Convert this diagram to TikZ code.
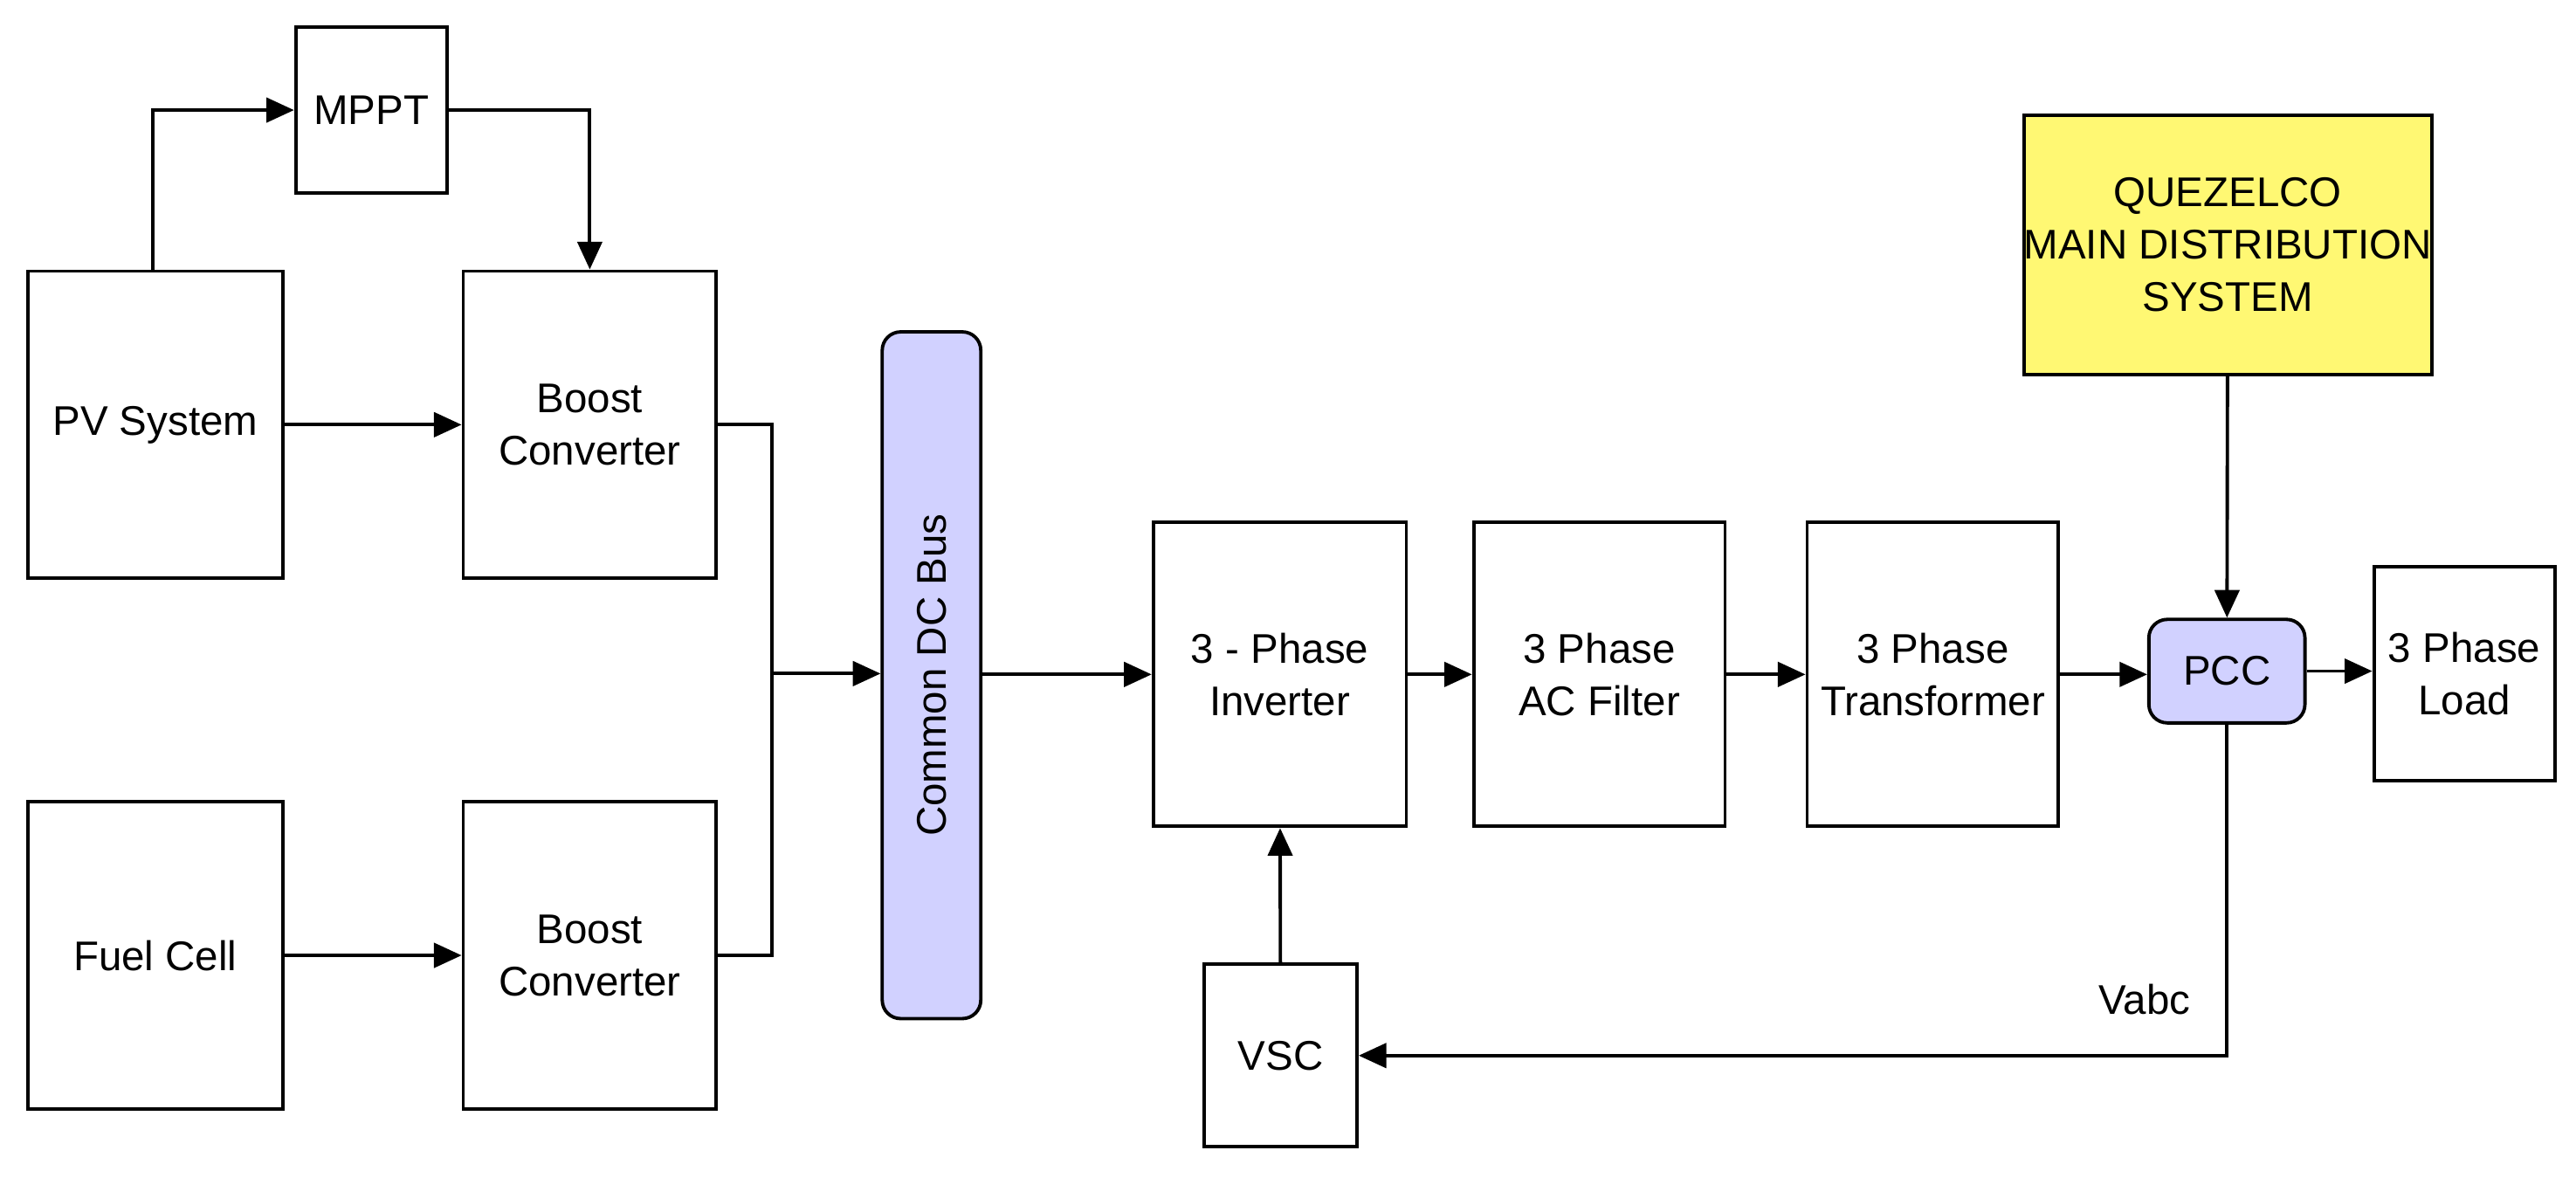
\documentclass[tikz,border=0pt]{standalone}
\usepackage{fontspec}
\setmainfont{Liberation Sans}
\usetikzlibrary{positioning, arrows.meta}

\begin{document}
\begin{tikzpicture}[x=0.0188cm, y=-0.0188cm, line width=1.1pt, font=\fontsize{13.5}{17}\selectfont,
  block/.style = {draw, align=center, inner sep=0pt},
  bus/.style = {draw, rounded corners=6pt, fill=blue!18, inner sep=0pt},
  arr/.style = {-{Triangle[length=9pt, width=8pt]}}]
\useasboundingbox (0,0) rectangle (1568,717);

\node[block, minimum width=92*0.0188cm, minimum height=101*0.0188cm] (mppt) at (226,67) {MPPT};
\node[block, minimum width=155*0.0188cm, minimum height=187*0.0188cm] (pv) at (94.5,258.5) {PV System};
\node[block, minimum width=154*0.0188cm, minimum height=187*0.0188cm] (bc1) at (359,258.5) {Boost\\Converter};
\node[block, minimum width=155*0.0188cm, minimum height=187*0.0188cm] (fc) at (94.5,581.5) {Fuel Cell};
\node[block, minimum width=154*0.0188cm, minimum height=187*0.0188cm] (bc2) at (359,581.5) {Boost\\Converter};
\node[bus, minimum width=60*0.0188cm, minimum height=418*0.0188cm] (dc) at (567,411) {};
\node[rotate=90] at (dc) {Common DC Bus};
\node[block, minimum width=154*0.0188cm, minimum height=185*0.0188cm] (inv) at (779,410.5) {3 - Phase\\Inverter};
\node[block, minimum width=153*0.0188cm, minimum height=185*0.0188cm] (filt) at (973.5,410.5) {3 Phase\\AC Filter};
\node[block, minimum width=153*0.0188cm, minimum height=185*0.0188cm] (trf) at (1176.5,410.5) {3 Phase\\Transformer};
\node[bus, minimum width=95*0.0188cm, minimum height=63*0.0188cm] (pcc) at (1355.5,408.5) {PCC};
\node[block, minimum width=110*0.0188cm, minimum height=130*0.0188cm] (load) at (1500,410) {3 Phase\\Load};
\node[block, fill=yellow!55, minimum width=236*0.0188cm, minimum height=158*0.0188cm] (grid) at (1356,149) {QUEZELCO\\MAIN DISTRIBUTION\\SYSTEM};
\node[block, minimum width=93*0.0188cm, minimum height=111*0.0188cm] (vsc) at (779.5,642.5) {VSC};
\coordinate (jn) at (470,410);

\draw[arr] (pv.north -| 93,0) |- (mppt.west);
\draw[arr] (mppt.east) -| (bc1.north);
\draw[arr] (pv) -- (bc1);
\draw[arr] (fc) -- (bc2);
\draw (bc1.east) -| (jn);
\draw (bc2.east) -| (jn);
\draw[arr] (jn) -- (dc.west |- jn);
\draw[arr] (dc.east |- inv) -- (inv);
\draw[arr] (inv) -- (filt);
\draw[arr] (filt) -- (trf);
\draw[arr] (trf) -- (pcc.west |- trf);
\draw[arr] (pcc) -- (load.west |- pcc);
\draw[arr] (grid) -- (pcc);
\draw[arr] (pcc.south) |- node[pos=0.415, left=8pt]{Vabc} (vsc.east);
\draw[arr] (vsc) -- (inv);
\end{tikzpicture}
\end{document}
